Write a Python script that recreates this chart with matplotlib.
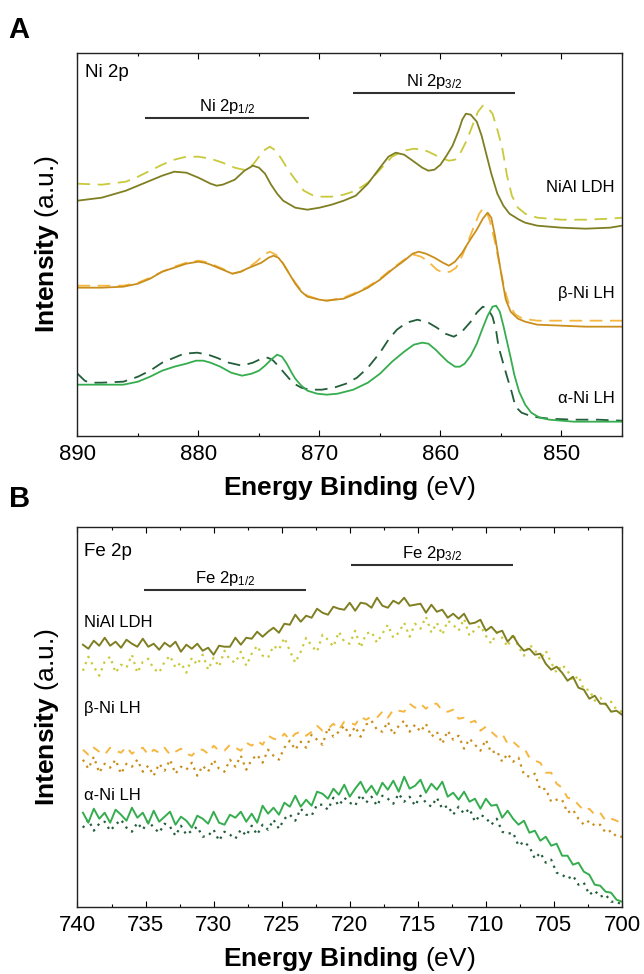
import numpy as np
import matplotlib
matplotlib.use("Agg")
import matplotlib.pyplot as plt
from matplotlib.ticker import MultipleLocator

plt.rcParams.update({
    "font.family": "Liberation Sans",
    "mathtext.fontset": "custom",
    "mathtext.rm": "Liberation Sans",
    "mathtext.it": "Liberation Sans:italic",
    "mathtext.bf": "Liberation Sans:bold",
})

# ---------------- Ni 2p (panel A) ----------------
niald_solid_e = [890.0, 888.0, 886.0, 884.0, 883.0, 882.0, 881.0, 880.0, 879.0, 878.5,
                 878.0, 877.0, 876.2, 875.5, 875.0, 874.5, 874.0, 873.5, 873.0, 872.0,
                 871.0, 870.0, 869.0, 868.0, 867.0, 866.0, 865.0, 864.3, 863.7, 863.0,
                 862.3, 861.5, 861.0, 860.5, 860.0, 859.5, 859.0, 858.5, 858.2, 857.9,
                 857.5, 857.0, 856.6, 856.2, 855.8, 855.3, 854.8, 854.3, 853.5, 853.0,
                 852.0, 850.0, 848.0, 846.0, 845.0]
niald_solid_i = [235, 238, 245, 255, 260, 264, 263, 258, 252, 250,
                 251, 256, 265, 270, 268, 262, 251, 242, 235, 228,
                 226, 228, 231, 235, 240, 252, 268, 279, 283, 281,
                 275, 268, 265, 266, 271, 280, 290, 305, 316, 322,
                 321, 314, 300, 281, 262, 242, 230, 222, 216, 213,
                 210, 208, 207, 208, 210]

niald_dash_e = [890.0, 888.0, 886.0, 885.0, 884.0, 883.0, 882.0, 881.0, 880.0, 879.0,
                878.0, 877.0, 876.3, 875.5, 875.0, 874.5, 874.1, 873.6, 873.1, 872.6,
                872.0, 871.3, 870.5, 870.0, 869.0, 868.0, 867.0, 866.0, 865.0, 864.0,
                863.0, 862.2, 861.5, 861.0, 860.0, 859.3, 858.8, 858.3, 857.8, 857.3,
                856.9, 856.5, 856.1, 855.7, 855.3, 854.9, 854.5, 854.1, 853.6, 853.0,
                852.0, 850.0, 848.0, 846.0, 845.0]
niald_dash_i = [252, 251, 254, 259, 265, 271, 276, 279, 279, 277,
                273, 268, 266, 271, 279, 286, 289, 285, 276, 266,
                256, 245, 240, 239, 239, 241, 245, 253, 266, 279,
                285, 287, 286, 284, 278, 275, 276, 284, 296, 312,
                324, 330, 328, 322, 306, 288, 260, 240, 228, 222,
                218, 216, 216, 217, 218]

beta_solid_e = [890.0, 888.0, 886.2, 885.0, 884.0, 883.0, 882.0, 881.0, 880.0, 879.5,
                879.0, 878.0, 877.2, 876.5, 876.0, 875.4, 874.8, 874.2, 873.8, 873.4,
                873.0, 872.5, 872.0, 871.5, 871.0, 870.0, 869.4, 868.0, 867.2, 866.0,
                865.0, 864.0, 863.0, 862.3, 861.8, 861.2, 860.5, 859.8, 859.3, 858.8,
                858.2, 857.6, 857.0, 856.5, 856.1, 855.8, 855.5, 855.2, 854.9, 854.6,
                854.2, 853.6, 853.0, 852.0, 850.0, 848.0, 845.0]
beta_solid_i = [148, 148, 149, 152, 157, 164, 168, 172, 174, 173,
                171, 166, 162, 164, 167, 170, 173, 178, 180, 178,
                172, 162, 152, 144, 139, 136, 135, 137, 141, 148,
                156, 166, 175, 182, 184, 182, 178, 173, 170, 174,
                183, 195, 206, 217, 223, 218, 200, 178, 156, 136,
                124, 117, 114, 111, 110, 109, 109]

beta_dash_e = [890.0, 888.0, 886.2, 885.0, 884.0, 883.0, 882.0, 881.0, 880.0, 879.5,
               879.0, 878.0, 877.2, 876.5, 876.0, 875.2, 874.6, 874.1, 873.6, 873.2,
               872.6, 872.0, 871.5, 871.0, 870.0, 869.4, 868.0, 867.2, 866.0, 865.0,
               864.0, 863.0, 862.2, 861.6, 861.0, 860.3, 859.8, 859.2, 858.7, 858.2,
               857.7, 857.2, 856.8, 856.5, 856.2, 855.9, 855.5, 855.1, 854.7, 854.3,
               853.8, 853.2, 852.0, 850.0, 845.0]
beta_dash_i = [150, 150, 150, 153, 158, 164, 169, 173, 175, 174,
               172, 167, 162, 164, 167, 174, 181, 184, 181, 176,
               164, 153, 145, 140, 136, 135, 138, 142, 149, 157,
               167, 176, 181, 179, 174, 166, 163, 164, 168, 180,
               195, 210, 222, 227, 225, 214, 194, 170, 146, 130,
               121, 117, 115, 115, 115]

alpha_solid_e = [890.0, 888.0, 886.2, 885.0, 884.0, 883.0, 882.0, 881.0, 880.2, 879.6,
                 879.0, 878.2, 877.3, 876.4, 875.6, 875.0, 874.5, 874.0, 873.5, 873.1,
                 872.7, 872.3, 872.0, 871.5, 871.0, 870.2, 869.4, 868.5, 867.2, 866.0,
                 865.0, 864.0, 863.0, 862.2, 861.5, 861.0, 860.4, 860.0, 859.4, 858.8,
                 858.4, 858.0, 857.5, 857.0, 856.5, 856.1, 855.7, 855.4, 855.1, 854.8,
                 854.5, 854.2, 853.9, 853.5, 853.0, 852.5, 851.8, 851.0, 849.0, 847.0,
                 845.0]
alpha_solid_i = [51, 51, 51, 54, 59, 65, 69, 72, 75, 75,
                 73, 69, 63, 60, 62, 65, 70, 76, 81, 79,
                 72, 63, 57, 50, 45, 42, 41, 42, 46, 53,
                 62, 74, 84, 91, 93, 92, 86, 81, 74, 69,
                 69, 72, 80, 92, 108, 120, 129, 130, 124, 110,
                 94, 78, 61, 44, 31, 23, 18, 16, 14, 14,
                 14]

alpha_dash_e = [890.0, 889.4, 889.0, 888.0, 886.2, 885.0, 884.0, 883.0, 882.0, 881.2,
                880.1, 879.2, 878.5, 877.5, 876.4, 875.5, 874.8, 874.3, 873.9, 873.5,
                873.0, 872.5, 872.1, 871.5, 870.8, 869.8, 868.8, 867.8, 866.9, 866.0,
                865.0, 864.3, 863.6, 862.8, 861.9, 861.0, 860.3, 859.6, 858.9, 858.3,
                857.5, 857.0, 856.5, 856.1, 855.7, 855.4, 855.2, 854.9, 854.5, 854.1,
                853.8, 853.3, 852.4, 851.0, 849.0, 847.0, 845.0]
alpha_dash_i = [62, 55, 53, 53, 54, 59, 65, 73, 78, 82,
                83, 81, 78, 73, 70, 73, 77, 78, 76, 71,
                64, 57, 52, 48, 46, 46, 48, 52, 58, 68,
                83, 96, 106, 113, 116, 113, 108, 102, 99, 103,
                114, 123, 129, 127, 119, 105, 89, 76, 59, 43,
                29, 23, 19, 17, 16, 16, 15]

# ---------------- Fe 2p (panel B) ----------------
fe_energy = np.linspace(739.6, 700.0, 100)

fe_niald_solid = [262, 258, 266, 261, 269, 261, 265, 259, 267, 263,
                  260, 268, 260, 263, 257, 264, 260, 265, 255, 262,
                  258, 263, 256, 259, 252, 261, 260, 260, 269, 262,
                  269, 268, 275, 270, 275, 279, 274, 283, 282, 292,
                  285, 291, 289, 298, 294, 292, 300, 298, 297, 304,
                  296, 304, 303, 299, 309, 301, 299, 306, 303, 309,
                  301, 302, 303, 294, 302, 295, 297, 289, 293, 288,
                  293, 283, 284, 287, 276, 280, 274, 276, 265, 271,
                  262, 256, 258, 252, 253, 243, 237, 240, 234, 226,
                  230, 219, 217, 208, 211, 203, 203, 195, 196, 192]
fe_niald_dot = [236, 250, 240, 231, 245, 250, 234, 242, 239, 252,
                234, 245, 248, 238, 234, 245, 251, 239, 244, 234,
                249, 242, 252, 237, 249, 240, 256, 247, 244, 255,
                241, 253, 261, 251, 249, 261, 257, 269, 256, 244,
                255, 269, 261, 255, 272, 267, 260, 275, 265, 263,
                276, 259, 273, 275, 264, 273, 282, 269, 274, 284,
                270, 283, 278, 290, 274, 284, 272, 286, 282, 276,
                288, 271, 277, 281, 271, 263, 274, 269, 260, 273,
                260, 251, 262, 257, 247, 256, 244, 234, 242, 236,
                226, 231, 217, 217, 206, 209, 202, 205, 197, 195]
fe_beta_dash = [157, 152, 159, 155, 152, 159, 156, 154, 160, 153,
                157, 159, 152, 157, 154, 159, 152, 155, 158, 153,
                151, 157, 157, 153, 161, 156, 156, 162, 159, 156,
                164, 161, 166, 162, 171, 168, 167, 173, 167, 173,
                175, 171, 175, 181, 176, 178, 183, 177, 185, 184,
                182, 190, 187, 190, 189, 195, 189, 197, 196, 195,
                203, 199, 203, 198, 203, 203, 196, 195, 197, 188,
                189, 184, 186, 176, 180, 175, 170, 173, 163, 165,
                160, 159, 149, 146, 144, 134, 134, 123, 119, 109,
                108, 102, 96, 98, 92, 94, 86, 88, 86, 83]
fe_beta_dot = [147, 138, 150, 134, 143, 139, 147, 133, 143, 140,
               147, 135, 141, 131, 143, 136, 147, 133, 140, 137,
               144, 131, 141, 135, 147, 138, 135, 147, 140, 151,
               137, 147, 152, 144, 157, 151, 147, 159, 166, 157,
               165, 159, 172, 167, 162, 179, 170, 175, 181, 171,
               180, 170, 182, 186, 177, 175, 185, 172, 181, 186,
               175, 182, 175, 183, 170, 175, 163, 176, 167, 171,
               158, 168, 162, 156, 167, 154, 156, 145, 153, 145,
               149, 132, 130, 133, 117, 118, 105, 107, 107, 94,
               97, 88, 82, 86, 81, 82, 74, 76, 70, 70]
fe_alpha_solid = [94, 84, 98, 88, 94, 84, 97, 92, 86, 99,
                  89, 94, 83, 96, 85, 90, 95, 82, 90, 86,
                  79, 91, 88, 83, 95, 84, 82, 92, 89, 95,
                  85, 93, 84, 101, 93, 99, 92, 104, 100, 111,
                  100, 107, 101, 115, 113, 108, 118, 112, 122, 110,
                  118, 125, 114, 121, 112, 124, 117, 126, 115, 130,
                  118, 121, 127, 114, 123, 117, 125, 110, 114, 107,
                  115, 105, 108, 98, 108, 101, 102, 89, 96, 88,
                  82, 86, 74, 76, 66, 70, 61, 63, 51, 51,
                  42, 44, 35, 32, 22, 21, 15, 14, 7, 5]
fe_alpha_dot = [79, 87, 76, 83, 85, 76, 82, 87, 79, 75,
                84, 77, 86, 79, 74, 83, 80, 71, 81, 72,
                76, 80, 70, 71, 77, 66, 75, 72, 68, 77,
                71, 81, 72, 82, 77, 87, 78, 88, 92, 86,
                98, 92, 91, 102, 102, 97, 109, 101, 109, 104,
                101, 112, 104, 110, 101, 111, 108, 103, 113, 105,
                110, 101, 111, 104, 100, 109, 98, 101, 92, 100,
                93, 98, 85, 92, 89, 82, 88, 75, 73, 74,
                61, 65, 60, 48, 54, 44, 47, 34, 32, 28,
                31, 22, 24, 12, 16, 10, 12, 5, 5, 2]

sample_names = ["NiAl LDH", "β-Ni LH", "α-Ni LH"]

OLIVE, OLIVE_LIGHT = "#7f7f22", "#c9c93c"
AMBER, AMBER_LIGHT = "#c98e1b", "#f5b740"
GREEN, GREEN_DARK = "#35ad4f", "#235e3b"
BAR = "#303030"

DASH = (0, (7, 4.2))


def style_axes(ax, major, minor, xlim, ylim):
    ax.set_xlim(*xlim)
    ax.set_ylim(*ylim)
    ax.xaxis.set_major_locator(MultipleLocator(major))
    ax.xaxis.set_minor_locator(MultipleLocator(minor))
    ax.tick_params(axis="x", which="both", direction="in", top=True, bottom=True,
                   labelsize=16, width=0.8, pad=6)
    ax.tick_params(axis="x", which="major", length=4.2)
    ax.tick_params(axis="x", which="minor", length=2.4)
    ax.set_yticks([])
    for sp in ax.spines.values():
        sp.set_linewidth(1.0)
        sp.set_color("#222222")
    ax.set_xlabel(r"$\mathbf{Energy\ Binding}$ (eV)", fontsize=19)
    ax.xaxis.set_label_coords(0.5, -0.1)
    ax.set_ylabel(r"$\mathbf{Intensity}$ (a.u.)", fontsize=19)
    ax.yaxis.set_label_coords(-0.03, 0.5)


def level_bar(ax, e0, e1, y, label):
    ax.hlines(y, e0, e1, color=BAR, lw=1.5)
    ax.text((e0 + e1) / 2, y + 7, label, ha="center", va="baseline", fontsize=12)


fig = plt.figure(figsize=(6.44, 9.74), dpi=100)
ax_a = fig.add_axes([0.1203, 0.5527, 0.8455, 0.3932])
ax_b = fig.add_axes([0.1203, 0.0691, 0.8455, 0.3901])

# Panel A: Ni 2p
ax_a.plot(niald_dash_e, niald_dash_i, color=OLIVE_LIGHT, lw=1.3, ls=DASH)
ax_a.plot(niald_solid_e, niald_solid_i, color=OLIVE, lw=1.3)
ax_a.plot(beta_dash_e, beta_dash_i, color=AMBER_LIGHT, lw=1.3, ls=DASH)
ax_a.plot(beta_solid_e, beta_solid_i, color=AMBER, lw=1.3)
ax_a.plot(alpha_dash_e, alpha_dash_i, color=GREEN_DARK, lw=1.3, ls=DASH)
ax_a.plot(alpha_solid_e, alpha_solid_i, color=GREEN, lw=1.3)
style_axes(ax_a, 10, 5, (890, 845), (0, 383))

ax_a.text(889.4, 359, "Ni 2p", fontsize=13.5, va="baseline")
level_bar(ax_a, 884.4, 870.9, 318, r"Ni 2p$_{1/2}$")
level_bar(ax_a, 867.2, 853.8, 343, r"Ni 2p$_{3/2}$")
for name, y in zip(sample_names, [244, 138, 33]):
    ax_a.text(845.6, y, name, ha="right", va="baseline", fontsize=12)

# Panel B: Fe 2p
ax_b.plot(fe_energy, fe_niald_dot, color=OLIVE_LIGHT, lw=1.6, ls=(0, (1, 2.2)))
ax_b.plot(fe_energy, fe_niald_solid, color=OLIVE, lw=1.4)
ax_b.plot(fe_energy, fe_beta_dash, color=AMBER_LIGHT, lw=1.4, ls=(0, (4, 4)))
ax_b.plot(fe_energy, fe_beta_dot, color=AMBER, lw=1.6, ls=(0, (1, 2.2)))
ax_b.plot(fe_energy, fe_alpha_dot, color=GREEN_DARK, lw=1.6, ls=(0, (1, 2.2)))
ax_b.plot(fe_energy, fe_alpha_solid, color=GREEN, lw=1.4)
style_axes(ax_b, 5, 2.5, (740, 700), (0, 380))

ax_b.text(739.5, 351, "Fe 2p", fontsize=13.5, va="baseline")
level_bar(ax_b, 735.1, 723.2, 317, r"Fe 2p$_{1/2}$")
level_bar(ax_b, 719.9, 708.0, 342, r"Fe 2p$_{3/2}$")
for name, y in zip(sample_names, [280, 194, 107]):
    ax_b.text(739.5, y, name, ha="left", va="baseline", fontsize=12)

fig.text(8 / 644, 1 - 38 / 974, "A", fontsize=21, fontweight="bold", va="baseline")
fig.text(9 / 644, 1 - 507 / 974, "B", fontsize=21, fontweight="bold", va="baseline")

fig.savefig("out.png", dpi=100)
